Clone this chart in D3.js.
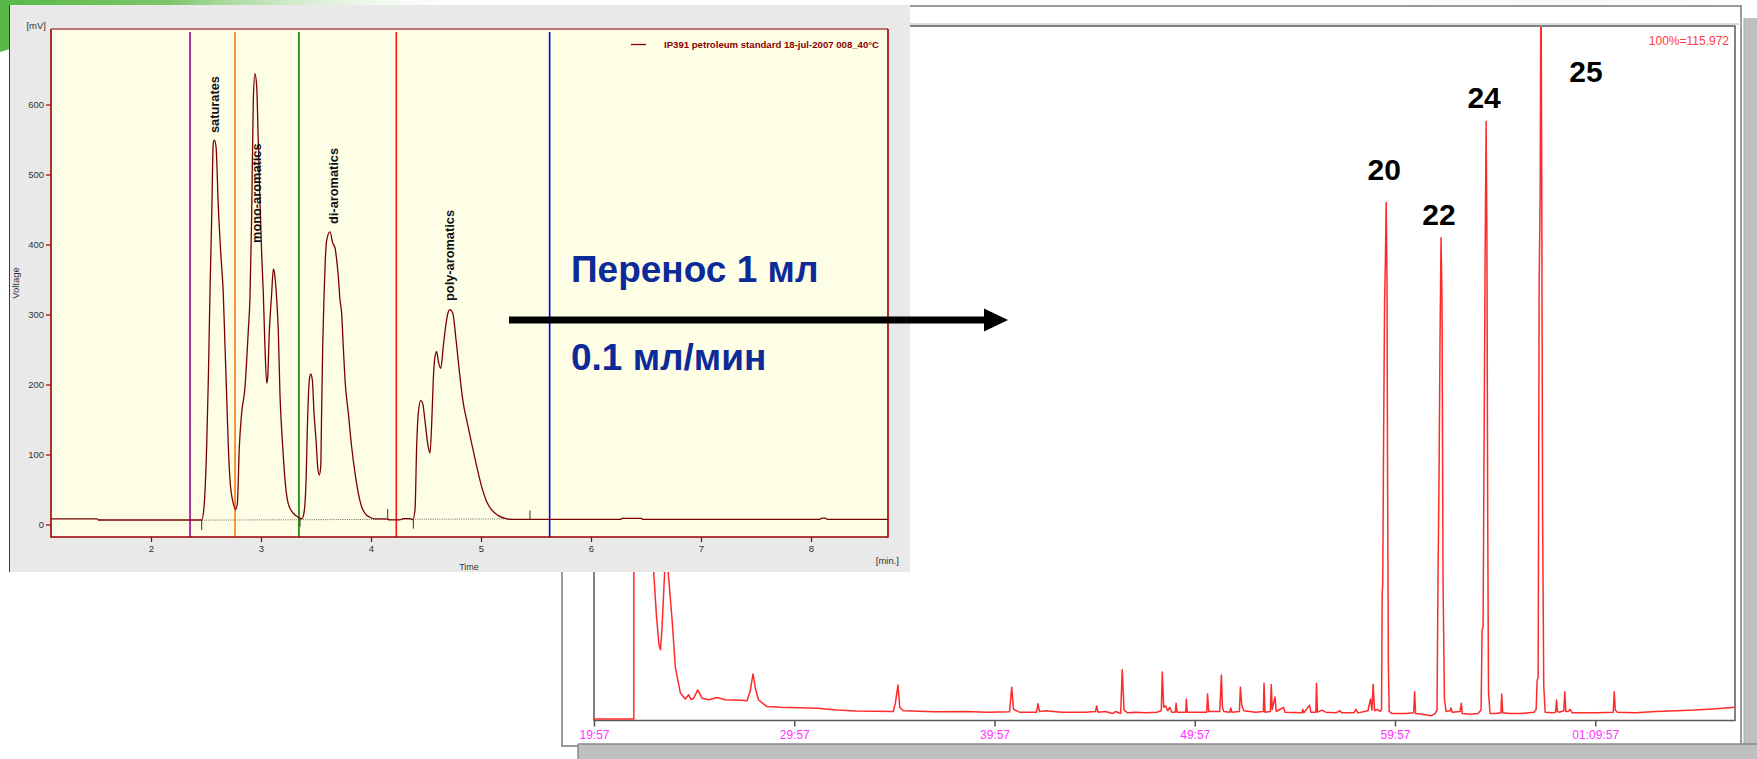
<!DOCTYPE html>
<html>
<head>
<meta charset="utf-8">
<script src="https://cdn.jsdelivr.net/npm/d3@7"></script>
<style>
  html, body { margin: 0; padding: 0; background: #ffffff; overflow: hidden; }
  svg { display: block; font-family: 'Liberation Sans', Arial, sans-serif; }
</style>
</head>
<body>
<svg id="chart" width="1757" height="759"></svg>
<script>
// ---------- HPLC group-type chromatogram (time in min, signal in mV) ----------
const lcTrace = [
  [1.09, 7.9], [1.51, 7.9], [1.52, 6.4], [2.461, 6.4], [2.482, 25], [2.506, 111], [2.521, 206],
  [2.536, 330], [2.552, 440], [2.566, 545], [2.576, 549], [2.591, 540], [2.612, 454],
  [2.634, 388], [2.657, 330], [2.673, 254], [2.688, 183], [2.703, 111], [2.718, 64],
  [2.748, 30], [2.77, 21.7], [2.785, 30], [2.803, 111], [2.824, 159], [2.855, 197],
  [2.87, 235], [2.885, 278], [2.9, 325], [2.915, 440], [2.93, 606], [2.945, 644],
  [2.961, 625], [2.975, 549], [2.99, 464], [3.006, 387], [3.021, 330], [3.036, 254],
  [3.052, 202], [3.06, 208], [3.075, 273], [3.097, 330], [3.112, 365], [3.127, 354],
  [3.143, 321], [3.157, 278], [3.173, 183], [3.188, 135], [3.203, 97], [3.218, 64],
  [3.24, 35], [3.264, 23], [3.294, 16], [3.339, 10.3], [3.37, 8], [3.39, 16],
  [3.41, 64], [3.421, 135], [3.439, 206], [3.452, 215], [3.467, 206], [3.482, 159],
  [3.5, 121], [3.515, 83], [3.53, 70.7], [3.543, 83], [3.551, 159], [3.561, 254],
  [3.573, 325], [3.582, 368], [3.597, 406], [3.627, 418], [3.652, 402], [3.673, 395],
  [3.688, 378], [3.703, 354], [3.718, 321], [3.733, 302], [3.748, 254], [3.764, 206],
  [3.794, 159], [3.824, 111], [3.855, 73], [3.885, 44.6], [3.915, 25.4], [3.945, 16],
  [3.99, 10.3], [4.036, 8], [4.14, 8], [4.17, 6.6], [4.26, 6.6], [4.294, 8.4],
  [4.355, 8.4], [4.379, 7], [4.4, 20.7], [4.415, 111], [4.43, 159], [4.452, 177],
  [4.47, 173], [4.49, 149], [4.52, 111], [4.536, 102], [4.552, 145], [4.566, 206],
  [4.582, 240], [4.597, 247], [4.612, 233], [4.634, 223], [4.657, 254], [4.682, 287],
  [4.703, 304], [4.718, 307], [4.743, 302], [4.773, 264], [4.803, 219], [4.839, 173],
  [4.87, 149], [4.915, 116], [4.961, 83], [5.006, 54], [5.052, 32.6], [5.097, 20.7],
  [5.158, 12.6], [5.234, 8], [5.279, 7.2], [6.27, 7.2], [6.28, 8.8], [6.46, 8.8],
  [6.47, 7.2], [8.08, 7.2], [8.1, 9], [8.13, 9], [8.15, 7.2], [8.70, 7.2]
];
const lcBaseline = [[2.461, 6.2], [5.28, 8]];
// integration event markers: [time, from mV, to mV]
const lcEvents = [[2.461, 6.4, -8], [3.355, 10, -3], [4.152, 22, 8], [4.385, 7, -6], [5.445, 20, 7.5]];
const lcTimeTicks = [2, 3, 4, 5, 6, 7, 8];
const lcSignalTicks = [0, 100, 200, 300, 400, 500, 600];
const cutTimes = [2.355, 2.764, 3.345, 4.23, 5.624];
const cutColors = ['#990099', '#ff7a0a', '#008000', '#ff1010', '#0000ff'];
const fractionNames = ['saturates', 'mono-aromatics', 'di-aromatics', 'poly-aromatics'];
const fractionTimes = [2.575, 2.945, 3.627, 4.718];
const legendText = 'IP391 petroleum standard 18-jul-2007 008_40°C';

// ---------- GC chromatogram of the transferred fraction (time in min, % of full scale) ----------
const gcTrace = [
  [19.95, 0.2], [21.94, 0.2], [21.96, 125], [22.80, 125], [22.93, 21.4], [23.07, 15],
  [23.20, 10.8], [23.27, 10.2], [23.34, 13], [23.48, 21.5], [23.56, 30], [23.65, 21.5],
  [23.85, 14.5], [24.01, 7.7], [24.26, 4.0], [24.51, 3.1], [24.68, 3.7], [24.80, 3.0],
  [24.93, 3.2], [25.13, 4.4], [25.35, 3.2], [25.7, 3.0], [26.09, 3.3], [26.5, 3.0],
  [26.92, 2.95], [27.3, 2.9], [27.59, 2.85], [27.75, 4.2], [27.89, 6.7], [28.02, 4.5],
  [28.17, 2.95], [28.59, 2.0], [29.25, 1.9], [30.2, 1.85], [31.09, 1.75], [32.1, 1.5],
  [33.04, 1.37], [34.9, 1.3], [35.0, 2.5], [35.13, 5.1], [35.22, 1.9], [35.4, 1.4],
  [36.98, 1.27], [38.5, 1.3], [39.6, 1.2], [40.7, 1.25], [40.81, 4.8], [40.9, 1.6],
  [41.2, 1.2], [42.05, 1.2], [42.12, 2.4], [42.2, 1.3], [42.5, 1.4], [43.3, 1.2],
  [44.5, 1.2], [45.0, 1.3], [45.05, 2.1], [45.12, 1.2], [45.5, 1.3], [45.85, 1.0],
  [46.0, 1.3], [46.25, 1.0], [46.33, 7.3], [46.42, 1.5], [46.6, 1.1], [47.0, 1.2],
  [47.5, 1.1], [48.05, 1.18], [48.28, 1.4], [48.33, 7.0], [48.4, 1.9], [48.5, 2.1],
  [48.6, 1.4], [48.7, 1.9], [48.8, 1.2], [48.98, 1.2], [49.02, 2.5], [49.07, 1.2],
  [49.5, 1.2], [49.53, 3.1], [49.58, 1.2], [50.55, 1.2], [50.59, 3.8], [50.65, 1.3],
  [51.2, 1.3], [51.28, 6.55], [51.33, 2.0], [51.4, 1.3], [51.7, 1.2], [51.75, 1.8],
  [51.8, 1.2], [52.18, 1.3], [52.23, 4.8], [52.3, 2.2], [52.4, 1.4], [53.0, 1.2],
  [53.38, 1.3], [53.41, 5.35], [53.46, 1.2], [53.73, 1.3], [53.77, 5.2], [53.82, 1.6],
  [53.96, 3.4], [54.02, 1.3], [54.39, 1.9], [54.45, 1.2], [55.3, 1.1], [55.35, 1.6],
  [55.4, 1.1], [55.68, 2.2], [55.75, 1.2], [56.0, 1.2], [56.03, 5.35], [56.08, 1.2],
  [56.3, 1.5], [56.5, 1.2], [57.0, 1.1], [57.2, 1.4], [57.3, 1.1], [57.9, 1.1],
  [58.0, 1.6], [58.1, 1.1], [58.6, 1.4], [58.73, 3.1], [58.8, 1.5], [58.86, 5.2],
  [58.93, 1.4], [59.05, 1.6], [59.22, 1.3], [59.28, 1.6], [59.31, 18], [59.34, 20],
  [59.38, 40], [59.43, 60], [59.47, 66], [59.51, 74.6], [59.55, 64], [59.58, 35],
  [59.62, 8], [59.66, 1.3], [59.8, 1.0], [60.5, 1.0], [60.88, 1.1], [60.93, 4.15],
  [60.98, 1.0], [61.3, 0.9], [61.77, 0.7], [61.95, 1.0], [62.05, 1.5], [62.1, 21],
  [62.15, 35], [62.2, 55], [62.25, 69.5], [62.3, 60], [62.35, 20], [62.42, 3],
  [62.5, 1.3], [62.7, 1.4], [62.75, 1.8], [62.8, 1.2], [63.2, 1.3], [63.26, 2.5],
  [63.31, 1.0], [63.7, 0.9], [64.1, 1.0], [64.25, 1.5], [64.3, 13], [64.35, 13.5],
  [64.4, 40], [64.45, 66], [64.5, 86.3], [64.54, 70], [64.58, 30], [64.62, 4],
  [64.7, 1.0], [65.0, 1.0], [65.24, 1.1], [65.28, 3.8], [65.33, 1.1], [65.7, 1.0],
  [66.2, 1.0], [66.9, 1.2], [67.0, 1.6], [67.05, 5.8], [67.1, 6.2], [67.15, 63],
  [67.2, 76], [67.24, 110], [67.28, 76], [67.32, 30], [67.38, 5], [67.45, 1.2],
  [67.8, 1.1], [67.97, 1.2], [68.02, 2.95], [68.06, 1.3], [68.15, 1.2], [68.38, 1.4],
  [68.43, 4.15], [68.48, 1.3], [68.6, 1.3], [68.7, 1.6], [68.8, 1.1], [69.5, 1.1],
  [70.0, 1.1], [70.85, 1.2], [70.9, 4.15], [70.95, 1.5], [71.05, 1.2], [71.95, 1.1],
  [73.0, 1.3], [74.0, 1.4], [74.9, 1.5], [76.0, 1.7], [76.93, 1.9]
];
const gcTickTimes = [19.95, 29.95, 39.95, 49.95, 59.95, 69.95];
const gcTickLabels = ['19:57', '29:57', '39:57', '49:57', '59:57', '01:09:57'];
const gcPeakNames = ['20', '22', '24', '25'];
const gcPeakTimes = [59.51, 62.25, 64.5, 67.24];
const fullScaleText = '100%=115.972';
const transferText = ['Перенос 1 мл', '0.1 мл/мин'];

const svg = d3.select('#chart');
const defs = svg.append('defs');

// ---------- slide background decoration ----------
const gTop = defs.append('linearGradient').attr('id', 'greenTop').attr('x1', 0).attr('x2', 1).attr('y1', 0).attr('y2', 0);
gTop.append('stop').attr('offset', '0').attr('stop-color', '#58b947');
gTop.append('stop').attr('offset', '0.35').attr('stop-color', '#7cc66a');
gTop.append('stop').attr('offset', '1').attr('stop-color', '#ffffff').attr('stop-opacity', 0);
svg.append('path').attr('d', 'M0,0 L480,0 L480,6 C300,6 120,14 0,52 Z').attr('fill', 'url(#greenTop)');
const gRight = defs.append('radialGradient').attr('id', 'hazeRight').attr('cx', 0.5).attr('cy', 0.2).attr('r', 0.6);
gRight.append('stop').attr('offset', '0').attr('stop-color', '#d7e3d5');
gRight.append('stop').attr('offset', '1').attr('stop-color', '#ffffff').attr('stop-opacity', 0);
svg.append('ellipse').attr('cx', 1560).attr('cy', 0).attr('rx', 260).attr('ry', 26).attr('fill', 'url(#hazeRight)');
svg.append('rect').attr('x', 1744).attr('y', 18).attr('width', 13).attr('height', 741).attr('fill', '#bfbfbf');
svg.append('line').attr('x1', 1744).attr('x2', 1744).attr('y1', 18).attr('y2', 759).attr('stroke', '#a8a8a8');

// ---------- GC panel (behind) ----------
const gc = { left: 594, right: 1735, top: 26, bottom: 720.5 };
const gcPanel = svg.append('g');
gcPanel.append('rect').attr('x', 562).attr('y', 6).attr('width', 1179).attr('height', 740)
  .attr('fill', '#ffffff').attr('stroke', '#9a9a9a').attr('stroke-width', 2);
gcPanel.append('rect').attr('x', 578).attr('y', 744).attr('width', 1179).attr('height', 15).attr('fill', '#bfbfbf');
gcPanel.append('line').attr('x1', 578).attr('x2', 1757).attr('y1', 744).attr('y2', 744).attr('stroke', '#8a8a8a').attr('stroke-width', 1.5);
gcPanel.append('line').attr('x1', 578).attr('x2', 578).attr('y1', 744).attr('y2', 759).attr('stroke', '#8a8a8a').attr('stroke-width', 1.5);
gcPanel.append('line').attr('x1', 562).attr('x2', 1741).attr('y1', gc.top - 2).attr('y2', gc.top - 2).attr('stroke', '#cfcfcf').attr('stroke-width', 1.5);
gcPanel.append('rect').attr('x', gc.left).attr('y', gc.top).attr('width', gc.right - gc.left).attr('height', gc.bottom - gc.top)
  .attr('fill', 'none').attr('stroke', '#5a5a5a').attr('stroke-width', 1.5);
gcPanel.append('line').attr('x1', 562).attr('x2', gc.left).attr('y1', gc.top).attr('y2', gc.top).attr('stroke', '#5a5a5a').attr('stroke-width', 1.5);

const xR = d3.scaleLinear().domain([19.95, 76.93]).range([gc.left, gc.right]);
const yR = d3.scaleLinear().domain([0, 100]).range([gc.bottom, gc.top]);

defs.append('clipPath').attr('id', 'gcClip').append('rect')
  .attr('x', gc.left).attr('y', gc.top + 1).attr('width', gc.right - gc.left).attr('height', gc.bottom - gc.top - 1);

gcPanel.append('path').datum(gcTrace)
  .attr('clip-path', 'url(#gcClip)')
  .attr('d', d3.line().x(d => xR(d[0])).y(d => yR(d[1])))
  .attr('fill', 'none').attr('stroke', '#ff2a2a').attr('stroke-width', 1.5).attr('stroke-linejoin', 'round');

const gcAxis = gcPanel.append('g').attr('transform', `translate(0,${gc.bottom})`)
  .call(d3.axisBottom(xR).tickValues(gcTickTimes).tickFormat((d, i) => gcTickLabels[i]).tickSize(6).tickPadding(4));
gcAxis.select('.domain').remove();
gcAxis.selectAll('line').attr('stroke', '#555').attr('stroke-width', 1.5);
gcAxis.selectAll('text').attr('fill', '#ff33ff').attr('font-size', 12)
  .attr('font-family', "'Liberation Sans', Arial, sans-serif");

gcPanel.append('text').attr('x', 1729).attr('y', 45).attr('text-anchor', 'end')
  .attr('font-size', 12).attr('fill', '#ff4040').text(fullScaleText);

const peakLabelLift = [22, 13, 13, 0];
gcPeakNames.forEach((name, i) => {
  const t = gcPeakTimes[i];
  const pt = gcTrace.find(d => d[0] === t);
  const y = i === 3 ? 82 : yR(pt[1]) - peakLabelLift[i];
  const dx = i === 3 ? 45 : -2;
  gcPanel.append('text').attr('x', xR(t) + dx).attr('y', y).attr('text-anchor', 'middle')
    .attr('font-size', 30).attr('font-weight', 'bold').attr('fill', '#000').text(name);
});

// ---------- HPLC panel (front) ----------
const lc = { left: 51, right: 888, top: 29, bottom: 537 };
const lcPanel = svg.append('g');
lcPanel.append('rect').attr('x', 9).attr('y', 5).attr('width', 901).attr('height', 567).attr('fill', '#e9e9e9');
lcPanel.append('line').attr('x1', 9.5).attr('x2', 9.5).attr('y1', 5).attr('y2', 572).attr('stroke', '#3a3a3a').attr('stroke-width', 1);
lcPanel.append('rect').attr('x', lc.left).attr('y', lc.top).attr('width', lc.right - lc.left).attr('height', lc.bottom - lc.top)
  .attr('fill', '#fefee6');

const xL = d3.scaleLinear().domain([2 - 100 / 110, 2 + 737 / 110]).range([lc.left, lc.right]);
const yL = d3.scaleLinear().domain([-17.9, 707.9]).range([lc.bottom, lc.top]);

defs.append('clipPath').attr('id', 'lcClip').append('rect')
  .attr('x', lc.left).attr('y', lc.top).attr('width', lc.right - lc.left).attr('height', lc.bottom - lc.top);
const lcPlot = lcPanel.append('g').attr('clip-path', 'url(#lcClip)');

// fraction cut markers
cutTimes.forEach((t, i) => {
  lcPlot.append('line').attr('x1', xL(t)).attr('x2', xL(t)).attr('y1', lc.top + 3).attr('y2', lc.bottom)
    .attr('stroke', cutColors[i]).attr('stroke-width', 1.6);
});

// integration baseline and events
lcPlot.append('path').datum(lcBaseline)
  .attr('d', d3.line().x(d => xL(d[0])).y(d => yL(d[1])))
  .attr('stroke', '#444').attr('stroke-width', 0.8).attr('stroke-dasharray', '1,1.2').attr('fill', 'none');
lcEvents.forEach(e => {
  lcPlot.append('line').attr('x1', xL(e[0])).attr('x2', xL(e[0])).attr('y1', yL(e[1])).attr('y2', yL(e[2]))
    .attr('stroke', '#333').attr('stroke-width', 1);
});

lcPlot.append('path').datum(lcTrace)
  .attr('d', d3.line().x(d => xL(d[0])).y(d => yL(d[1])).curve(d3.curveMonotoneX))
  .attr('fill', 'none').attr('stroke', '#7a0000').attr('stroke-width', 1.3).attr('stroke-linejoin', 'round');

// frame
lcPanel.append('line').attr('x1', lc.left).attr('x2', lc.right).attr('y1', lc.top).attr('y2', lc.top)
  .attr('stroke', '#c07272').attr('stroke-width', 1.8);
lcPanel.append('path').attr('d', `M${lc.left},${lc.top} V${lc.bottom} H${lc.right} V${lc.top}`)
  .attr('fill', 'none').attr('stroke', '#990000').attr('stroke-width', 1.6);

// axes
const yAx = lcPanel.append('g').attr('transform', `translate(${lc.left},0)`)
  .call(d3.axisLeft(yL).tickValues(lcSignalTicks).tickSize(5).tickPadding(2));
yAx.select('.domain').remove();
yAx.selectAll('line').attr('stroke', '#990000').attr('stroke-width', 1.2);
yAx.selectAll('text').attr('fill', '#333').attr('font-size', 9.5).attr('font-family', "'Liberation Sans', Arial, sans-serif");
const xAx = lcPanel.append('g').attr('transform', `translate(0,${lc.bottom})`)
  .call(d3.axisBottom(xL).tickValues(lcTimeTicks).tickSize(5).tickPadding(3));
xAx.select('.domain').remove();
xAx.selectAll('line').attr('stroke', '#990000').attr('stroke-width', 1.2);
xAx.selectAll('text').attr('fill', '#333').attr('font-size', 9.5).attr('font-family', "'Liberation Sans', Arial, sans-serif");

lcPanel.append('text').attr('x', 46).attr('y', 29).attr('text-anchor', 'end').attr('font-size', 9.5).attr('fill', '#333').text('[mV]');
lcPanel.append('text').attr('transform', 'translate(19,283) rotate(-90)').attr('text-anchor', 'middle')
  .attr('font-size', 9.5).attr('fill', '#333').text('Voltage');
lcPanel.append('text').attr('x', 469).attr('y', 570).attr('text-anchor', 'middle').attr('font-size', 9).attr('fill', '#333').text('Time');
lcPanel.append('text').attr('x', 899).attr('y', 564).attr('text-anchor', 'end').attr('font-size', 9.5).attr('fill', '#333').text('[min.]');

// fraction names, rotated above their peaks
const labelBase = [[5, 133], [6, 243], [8, 224], [4, 301]];
fractionNames.forEach((name, i) => {
  const x = xL(fractionTimes[i]) + labelBase[i][0];
  lcPanel.append('text').attr('transform', `translate(${x},${labelBase[i][1]}) rotate(-90)`)
    .attr('font-size', 12.8).attr('font-weight', 'bold').attr('fill', '#111').text(name);
});

// legend
lcPanel.append('line').attr('x1', 631).attr('x2', 646).attr('y1', 44.5).attr('y2', 44.5).attr('stroke', '#8b0000').attr('stroke-width', 1.3);
lcPanel.append('text').attr('x', 879).attr('y', 48).attr('text-anchor', 'end')
  .attr('font-size', 9.6).attr('font-weight', 'bold').attr('fill', '#8b0000').text(legendText);

// ---------- transfer annotation ----------
svg.append('text').attr('x', 571).attr('y', 281.5).attr('font-size', 37).attr('font-weight', 'bold').attr('fill', '#0c2a98').text(transferText[0]);
svg.append('text').attr('x', 571).attr('y', 369.5).attr('font-size', 37).attr('font-weight', 'bold').attr('fill', '#0c2a98').text(transferText[1]);
svg.append('line').attr('x1', 509).attr('x2', 986).attr('y1', 320).attr('y2', 320).attr('stroke', '#000').attr('stroke-width', 7);
svg.append('path').attr('d', 'M984,308.5 L1008,320 L984,331.5 Z').attr('fill', '#000');
</script>
</body>
</html>
